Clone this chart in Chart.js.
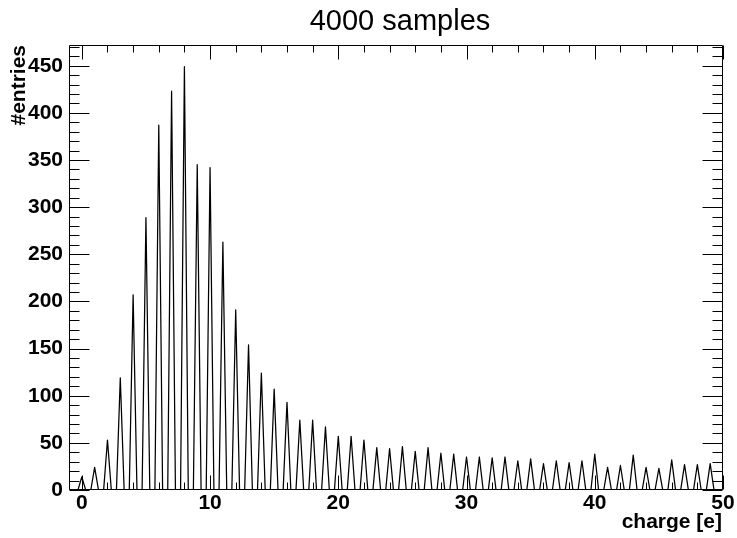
<!DOCTYPE html>
<html>
<head>
<meta charset="utf-8">
<script src="https://cdn.jsdelivr.net/npm/chart.js@4/dist/chart.umd.min.js"></script>
<style>
  html, body { margin: 0; padding: 0; background: #fff; }
  #wrap { width: 737px; height: 538px; }
</style>
</head>
<body>
<div id="wrap"><canvas id="c" width="737" height="538"></canvas></div>
<script>
// ---- data ----
const peakCharge = [0,1,2,3,4,5,6,7,8,9,10,11,12,13,14,15,16,17,18,19,20,21,22,23,24,25,26,27,28,29,30,31,32,33,34,35,36,37,38,39,40,41,42,43,44,45,46,47,48,49];
const peakEntries = [14,24,53,119,207,289,387,423,449,345,342,263,191,154,124,107,93,74,74,67,57,57,53,45,44,46,41,45,39,38,35,35,34,35,31,33,28,31,29,31,38,24,26,37,24,23,32,27,27,28];
const peakHalfWidth = 0.3;          // half base width of each peak, in charge units
const xRange = [-1, 50];
const yRange = [0, 472];
const xTickValues = [0, 10, 20, 30, 40, 50];
const yTickValues = [0, 50, 100, 150, 200, 250, 300, 350, 400, 450];
const xMinorStep = 2;
const yMinorStep = 10;
const titleText = '4000 samples';
const xTitle = 'charge [e]';
const yTitle = '#entries';

// histogram outline: baseline, peak, baseline for each charge
const points = [{x: xRange[0], y: 0}];
peakCharge.forEach((c, i) => {
  points.push({x: c - peakHalfWidth, y: 0});
  points.push({x: c, y: peakEntries[i]});
  points.push({x: c + peakHalfWidth, y: 0});
});
points.push({x: xRange[1], y: 0});

const FONT = "'Liberation Sans', Arial, Helvetica, sans-serif";

const framePlugin = {
  id: 'rootFrame',
  afterDraw(chart) {
    const {ctx, chartArea: a, scales: {x, y}} = chart;
    ctx.save();
    ctx.strokeStyle = '#000';
    ctx.lineWidth = 1;
    const L = Math.round(a.left) + 0.5, R = Math.round(a.right) - 0.5;
    const T = Math.round(a.top) + 0.5, B = Math.round(a.bottom) - 0.5;
    ctx.beginPath();
    ctx.rect(L, T, R - L, B - T);
    ctx.stroke();
    ctx.beginPath();
    // x ticks (bottom and top, inside)
    for (let v = 0; v <= xRange[1] + 1e-9; v += xMinorStep) {
      const px = Math.round(x.getPixelForValue(v)) + 0.5;
      const len = (v % 10 === 0) ? 14 : 7;
      ctx.moveTo(px, B); ctx.lineTo(px, B - len);
      ctx.moveTo(px, T); ctx.lineTo(px, T + len);
    }
    // y ticks (left and right, inside)
    for (let v = 0; v <= yRange[1] + 1e-9; v += yMinorStep) {
      const py = Math.round(y.getPixelForValue(v)) + 0.5;
      const len = (v % 50 === 0) ? 20 : 10;
      ctx.moveTo(L, py); ctx.lineTo(L + len, py);
      ctx.moveTo(R, py); ctx.lineTo(R - len, py);
    }
    ctx.stroke();

    ctx.fillStyle = '#000';
    // title
    ctx.font = '29px ' + FONT;
    ctx.textAlign = 'center';
    ctx.textBaseline = 'alphabetic';
    ctx.fillText(titleText, 400, 30);
    // x title
    ctx.font = 'bold 21px ' + FONT;
    ctx.textAlign = 'right';
    ctx.fillText(xTitle, 722, 528);
    // y title
    ctx.translate(25, 45);
    ctx.rotate(-Math.PI / 2);
    ctx.textAlign = 'right';
    ctx.fillText(yTitle, 0, 0);
    ctx.restore();
  }
};

new Chart(document.getElementById('c'), {
  type: 'line',
  data: {
    datasets: [{
      data: points,
      borderColor: '#000',
      borderWidth: 1.25,
      borderJoinStyle: 'round',
      pointRadius: 0,
      tension: 0,
      fill: false
    }]
  },
  options: {
    responsive: false,
    animation: false,
    layout: { padding: { top: 45, right: 14, left: 0, bottom: 0 } },
    plugins: { legend: { display: false }, tooltip: { enabled: false }, title: { display: false } },
    scales: {
      x: {
        type: 'linear',
        min: xRange[0], max: xRange[1],
        grid: { display: false, drawTicks: false },
        border: { display: false },
        afterBuildTicks: s => { s.ticks = xTickValues.map(v => ({value: v})); },
        afterFit: s => { s.height = 48; },
        ticks: { color: '#000', font: { family: FONT, size: 21, weight: 'bold' }, padding: 1, maxRotation: 0, autoSkip: false }
      },
      y: {
        type: 'linear',
        min: yRange[0], max: yRange[1],
        grid: { display: false, drawTicks: false },
        border: { display: false },
        afterBuildTicks: s => { s.ticks = yTickValues.map(v => ({value: v})); },
        afterFit: s => { s.width = 69; },
        ticks: { color: '#000', font: { family: FONT, size: 21, weight: 'bold' }, padding: 6, autoSkip: false }
      }
    }
  },
  plugins: [framePlugin]
});
</script>
</body>
</html>
